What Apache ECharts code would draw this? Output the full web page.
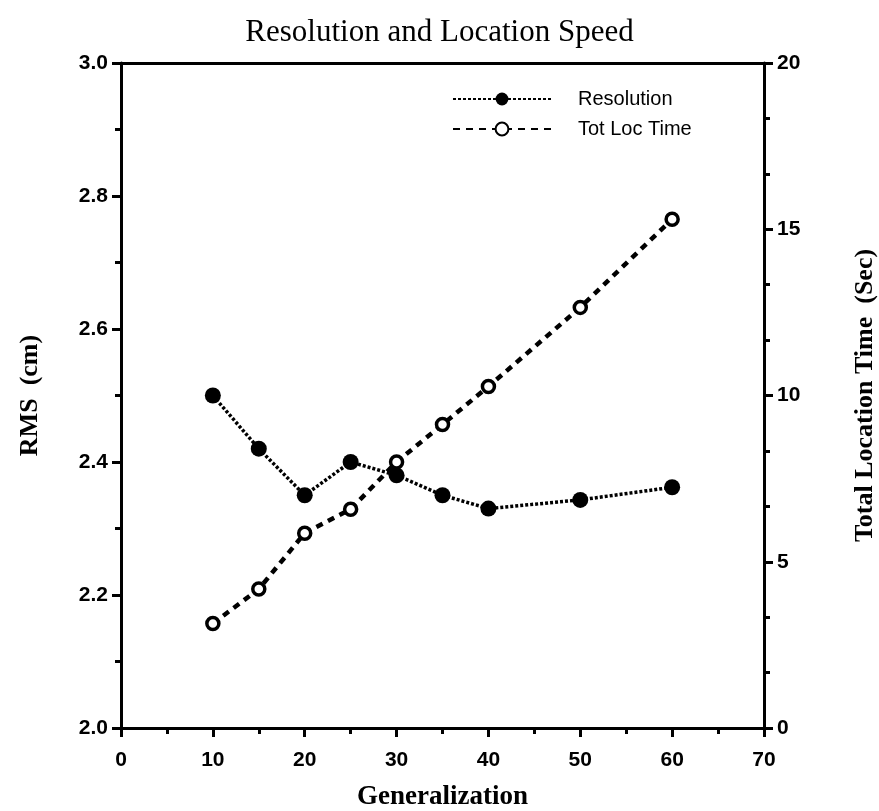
<!DOCTYPE html>
<html>
<head>
<meta charset="utf-8">
<script src="https://cdn.jsdelivr.net/npm/echarts@6/dist/echarts.min.js"></script>
<style>html,body{margin:0;padding:0;background:#fff}#c{width:879px;height:811px}</style>
</head>
<body>
<div id="c"></div>
<script>
const generalization = [10, 15, 20, 25, 30, 35, 40, 50, 60];
const resolution = [2.50, 2.42, 2.35, 2.40, 2.38, 2.35, 2.33, 2.343, 2.362];
const totLocTime = [3.14, 4.18, 5.86, 6.58, 8.0, 9.13, 10.27, 12.65, 15.3];
const titleText = 'Resolution and Location Speed';
const xName = 'Generalization';
const yLeftName = 'RMS  (cm)';
const yRightName = 'Total Location Time  (Sec)';
const seriesNames = ['Resolution', 'Tot Loc Time'];

const chart = echarts.init(document.getElementById('c'), null, {renderer: 'canvas'});
const tickFont = {fontFamily: 'Liberation Sans', fontSize: 21, color: '#000', fontWeight: 'bold'};
const nameFont = {fontFamily: 'Liberation Serif', fontSize: 26, fontWeight: 'bold', color: '#000'};
const axisLine = {show: true, onZero: false, lineStyle: {color: '#000', width: 3}};

chart.setOption({
  animation: false,
  backgroundColor: '#fff',
  title: {
    text: titleText, left: 'center', top: 12,
    textStyle: {fontFamily: 'Liberation Serif', fontSize: 31, fontWeight: 'normal', color: '#000'}
  },
  legend: {
    orient: 'vertical', left: 447, top: 84, itemWidth: 98, itemHeight: 16, itemGap: 10,
    textStyle: {fontFamily: 'Liberation Sans', fontSize: 20, color: '#000', padding: [0, 0, 0, 22]},
    data: seriesNames
  },
  grid: {left: 121, right: 115, top: 63, bottom: 83, containLabel: false, outerBoundsMode: 'none'},
  xAxis: [{
    type: 'value', min: 0, max: 70, interval: 10, position: 'bottom',
    name: xName, nameLocation: 'middle', nameGap: 56, nameTextStyle: Object.assign({}, nameFont, {fontSize: 27}),
    axisLine: axisLine,
    axisTick: {show: true, length: 9, lineStyle: {color: '#000', width: 3}},
    minorTick: {show: true, splitNumber: 2, length: 6, lineStyle: {color: '#000', width: 3}},
    axisLabel: Object.assign({margin: 22}, tickFont),
    splitLine: {show: false}
  }, {
    type: 'value', min: 0, max: 70, position: 'top',
    axisLine: axisLine, axisTick: {show: false}, axisLabel: {show: false}, splitLine: {show: false}
  }],
  yAxis: [{
    type: 'value', min: 2.0, max: 3.0, interval: 0.2, position: 'left',
    name: yLeftName, nameLocation: 'middle', nameGap: 78, nameRotate: 90, nameTextStyle: nameFont,
    axisLine: axisLine,
    axisTick: {show: true, length: 9, lineStyle: {color: '#000', width: 3}},
    minorTick: {show: true, splitNumber: 2, length: 6, lineStyle: {color: '#000', width: 3}},
    axisLabel: Object.assign({margin: 13, formatter: v => v.toFixed(1)}, tickFont),
    splitLine: {show: false}
  }, {
    type: 'value', min: 0, max: 20, interval: 5, position: 'right',
    name: yRightName, nameLocation: 'middle', nameGap: 88, nameRotate: 90, nameTextStyle: nameFont,
    axisLine: axisLine,
    axisTick: {show: true, length: 9, lineStyle: {color: '#000', width: 3}},
    minorTick: {show: true, splitNumber: 3, length: 6, lineStyle: {color: '#000', width: 3}},
    axisLabel: Object.assign({margin: 13}, tickFont),
    splitLine: {show: false}
  }],
  series: [{
    name: seriesNames[0], type: 'line', xAxisIndex: 0, yAxisIndex: 0,
    data: generalization.map((x, i) => [x, resolution[i]]),
    symbol: 'circle', symbolSize: 16,
    itemStyle: {color: '#000', borderColor: '#000', borderWidth: 0},
    lineStyle: {color: '#000', width: 3.5, type: [3, 2]},
    z: 3
  }, {
    name: seriesNames[1], type: 'line', xAxisIndex: 0, yAxisIndex: 1,
    data: generalization.map((x, i) => [x, totLocTime[i]]),
    symbol: 'circle', symbolSize: 12,
    itemStyle: {color: '#fff', borderColor: '#000', borderWidth: 3.5},
    lineStyle: {color: '#000', width: 4.5, type: [7, 6]},
    z: 2
  }]
});
</script>
</body>
</html>
